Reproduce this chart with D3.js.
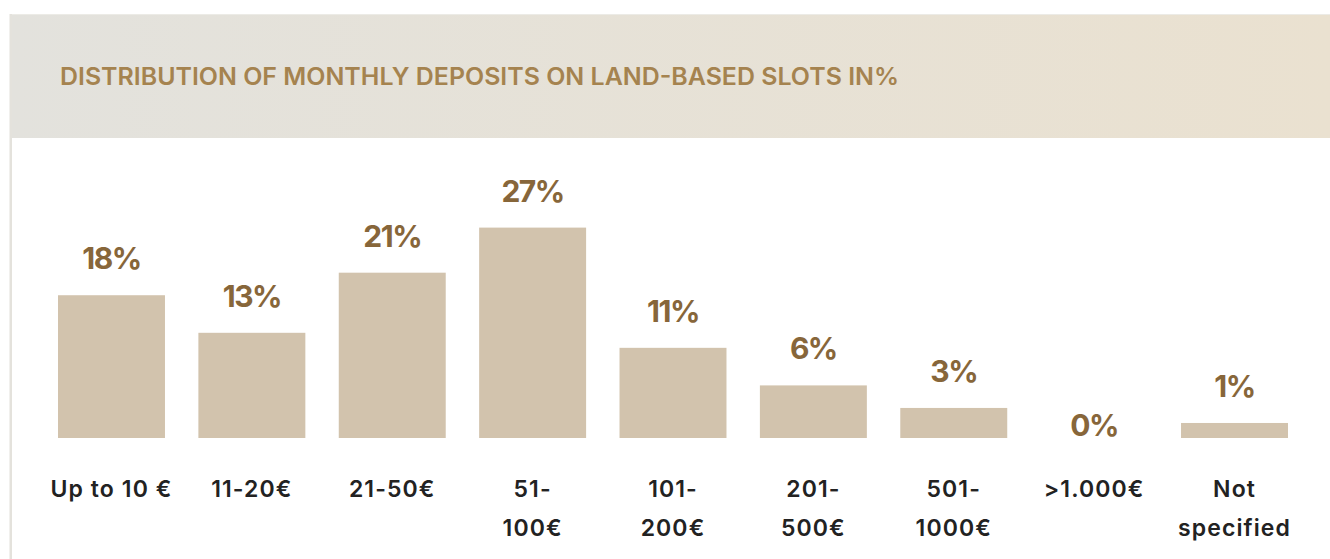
<!DOCTYPE html>
<html><head><meta charset="utf-8">
<script src="https://cdn.jsdelivr.net/npm/d3@7"></script>
<style>body{margin:0;background:#fff}svg{display:block}</style>
</head><body>
<svg id="c" width="1330" height="559"></svg>
<script>
const title = "DISTRIBUTION OF MONTHLY DEPOSITS ON LAND-BASED SLOTS IN%";
const categories = ["Up to 10 €","11-20€","21-50€","51-100€","101-200€","201-500€","501-1000€",">1.000€","Not specified"];
const categoryLines = [["Up to 10 €"],["11-20€"],["21-50€"],["51-","100€"],["101-","200€"],["201-","500€"],["501-","1000€"],[">1.000€"],["Not","specified"]];
const values = [18,13,21,27,11,6,3,0,1];

const FONT = "Inter, 'Noto Sans', sans-serif";
const svg = d3.select("#c");

const defs = svg.append("defs");
const grad = defs.append("linearGradient").attr("id","hdr").attr("x1","0%").attr("x2","100%");
grad.append("stop").attr("offset","0%").attr("stop-color","#e3e2dd");
grad.append("stop").attr("offset","100%").attr("stop-color","#eae1d0");

svg.append("rect").attr("x",11).attr("y",14).attr("width",1319).attr("height",124).attr("fill","url(#hdr)");
svg.append("rect").attr("x",11).attr("y",14).attr("width",1319).attr("height",1).attr("fill","#ecebe6");
svg.append("rect").attr("x",9.5).attr("y",14).attr("width",2.5).attr("height",545).attr("fill","#e4e2dc");

svg.append("text").attr("x",60).attr("y",85)
  .attr("font-family",FONT).attr("font-weight",600).attr("font-size",24)
  .attr("fill","#a5834f").attr("textLength",839).attr("lengthAdjust","spacingAndGlyphs")
  .text(title);

const data = categories.map((c,i)=>({c, lines: categoryLines[i], v: values[i]}));

const x = d3.scaleBand().domain(categories).range([41.3,1304.7]).paddingInner(0.238).paddingOuter(0.119);
const y = d3.scaleLinear().domain([-1,27]).range([438,227.6]);
const base = y(-1);

const g = svg.append("g");
g.selectAll("rect.bar").data(data.filter(d=>d.v>0)).join("rect")
  .attr("class","bar")
  .attr("x",d=>x(d.c)).attr("width",x.bandwidth())
  .attr("y",d=>y(d.v)).attr("height",d=>base-y(d.v))
  .attr("fill","#d2c3ad");

g.selectAll("text.val").data(data).join("text")
  .attr("class","val")
  .attr("x",d=>x(d.c)+x.bandwidth()/2)
  .attr("y",d=>d.v>0 ? y(d.v)-26 : base-2)
  .attr("text-anchor","middle")
  .attr("font-family",FONT).attr("font-weight",700).attr("font-size",30)
  .attr("letter-spacing",-1.5)
  .attr("fill","#87663a")
  .text(d=>d.v+"%");

const xl = g.selectAll("text.cat").data(data).join("text")
  .attr("class","cat")
  .attr("text-anchor","middle")
  .attr("font-family",FONT).attr("font-weight",600).attr("font-size",23)
  .attr("letter-spacing",1.1)
  .attr("fill","#222222");
xl.selectAll("tspan").data(d=>d.lines.map(l=>({l, cx: x(d.c)+x.bandwidth()/2}))).join("tspan")
  .attr("x",t=>t.cx).attr("y",(t,i)=>497+i*39)
  .text(t=>t.l);
</script>
</body></html>
